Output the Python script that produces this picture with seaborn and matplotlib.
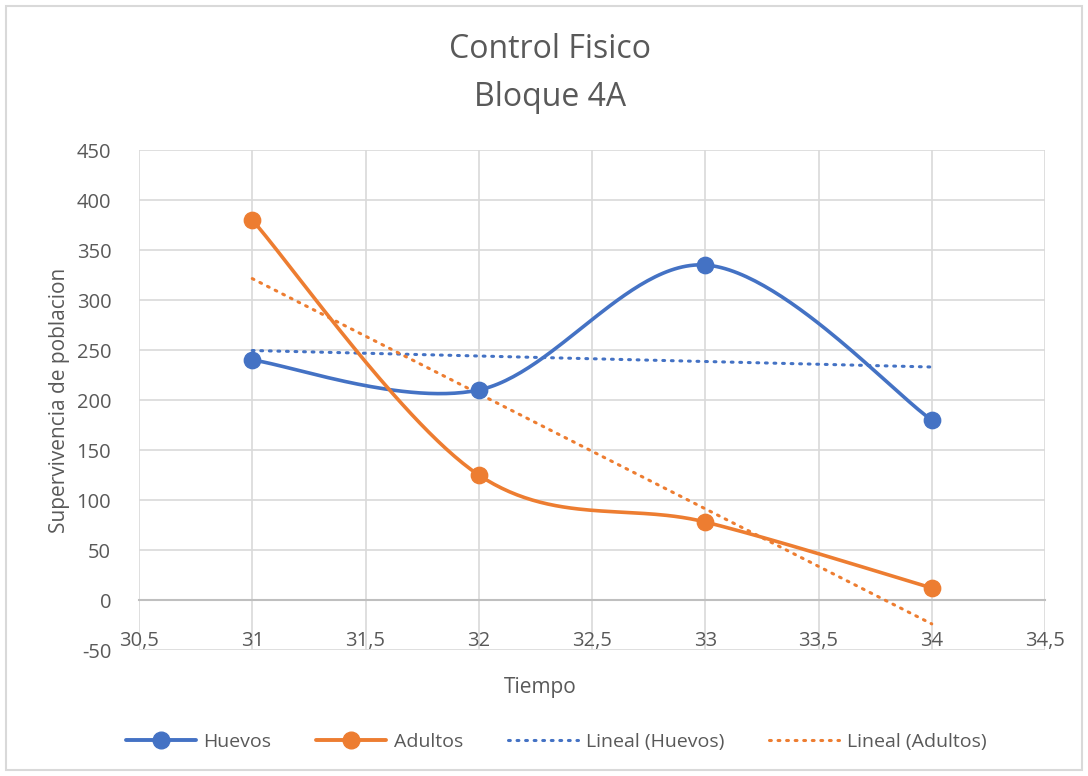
import numpy as np
import pandas as pd
import matplotlib
matplotlib.use('Agg')
import matplotlib.pyplot as plt
import seaborn as sns

tiempo = [31, 32, 33, 34]
huevos = [240, 210, 335, 180]
adultos = [380, 125, 78, 12]

azul = '#4472C4'
naranja = '#ED7D31'
texto = '#595959'

sns.set_theme(style='white')
plt.rcParams['font.family'] = ['Open Sans', 'DejaVu Sans']
plt.rcParams['axes.unicode_minus'] = False


def suavizar(xs, ys, n=60):
    # curva Bezier tipo Excel (Catmull-Rom, tension 1/6)
    p = np.column_stack([xs, ys]).astype(float)
    p = np.vstack([p[0], p, p[-1]])
    out = []
    for i in range(1, len(p) - 2):
        p0, p1, p2, p3 = p[i - 1], p[i], p[i + 1], p[i + 2]
        c1 = p1 + (p2 - p0) / 6
        c2 = p2 - (p3 - p1) / 6
        t = np.linspace(0, 1, n)[:, None]
        seg = (1 - t) ** 3 * p1 + 3 * (1 - t) ** 2 * t * c1 + 3 * (1 - t) * t ** 2 * c2 + t ** 3 * p2
        out.append(seg)
    out = np.vstack(out)
    return out[:, 0], out[:, 1]


fig = plt.figure(figsize=(10.88, 7.76), dpi=100)
ax = fig.add_axes([139 / 1088, 1 - 650 / 776, (1045 - 139) / 1088, 500 / 776])

series = [('Huevos', huevos, azul), ('Adultos', adultos, naranja)]
handles = []
for nombre, ys, col in series:
    sx, sy = suavizar(tiempo, ys)
    df = pd.DataFrame({'x': sx, 'y': sy})
    sns.lineplot(data=df, x='x', y='y', ax=ax, color=col, lw=2.6, sort=False,
                 estimator=None, zorder=3, legend=False)
    sns.scatterplot(x=tiempo, y=ys, ax=ax, color=col, s=140, edgecolor=col, zorder=4,
                    legend=False)
    h, = ax.plot([], [], color=col, lw=2.8, marker='o', ms=12)
    handles.append((h, nombre))

for nombre, ys, col in series:
    m, b = np.polyfit(tiempo, ys, 1)
    tx = np.array([tiempo[0], tiempo[-1]])
    h, = ax.plot(tx, m * tx + b, color=col, lw=2.2, linestyle=(0, (0.6, 2.2)),
                 dash_capstyle='round', zorder=2)
    handles.append((h, 'Lineal (%s)' % nombre))

ax.set_xlim(30.5, 34.5)
ax.set_ylim(-50, 450)
ax.set_xticks(np.arange(30.5, 34.6, 0.5))
ax.set_yticks(np.arange(-50, 451, 50))
ax.set_xticklabels([('%g' % v).replace('.', ',') for v in np.arange(30.5, 34.6, 0.5)])
ax.grid(True, color='#D9D9D9', lw=1.2)
for s in ['top', 'right', 'left']:
    ax.spines[s].set_visible(False)
ax.spines['bottom'].set_position(('data', 0))
ax.spines['bottom'].set_color('#BFBFBF')
ax.spines['bottom'].set_linewidth(1.5)
ax.spines['bottom'].set_zorder(1)
ax.tick_params(axis='both', length=0, labelsize=14.5, colors=texto)
ax.tick_params(axis='y', pad=20)
ax.tick_params(axis='x', pad=22)
if ax.get_legend() is not None:
    ax.get_legend().remove()

ax.set_xlabel('')
ax.set_ylabel('')
fig.text(60 / 1088, 1 - 400 / 776, 'Supervivencia de poblacion', rotation=90,
         ha='center', va='center', fontsize=15, color=texto)
fig.text(540 / 1088, 1 - 688 / 776, 'Tiempo', ha='center', va='center',
         fontsize=15, color=texto)
fig.text(550 / 1088, 1 - 50 / 776, 'Control Fisico', ha='center', va='center',
         fontsize=23, color=texto)
fig.text(550 / 1088, 1 - 98 / 776, 'Bloque 4A', ha='center', va='center',
         fontsize=23, color=texto)

leg = fig.legend([h for h, _ in handles], [n for _, n in handles], loc='center',
                 bbox_to_anchor=(556 / 1088, 1 - 742 / 776),
                 ncol=4, frameon=False, fontsize=14, handlelength=3.6, columnspacing=2.3,
                 handletextpad=0.4)
for t in leg.get_texts():
    t.set_color(texto)

fig.patches.append(plt.Rectangle((6 / 1088, 6 / 776), 1076 / 1088, 764 / 776,
                                 transform=fig.transFigure, fill=False,
                                 edgecolor='#D9D9D9', lw=1.5))

fig.savefig('out.png', dpi=100)
